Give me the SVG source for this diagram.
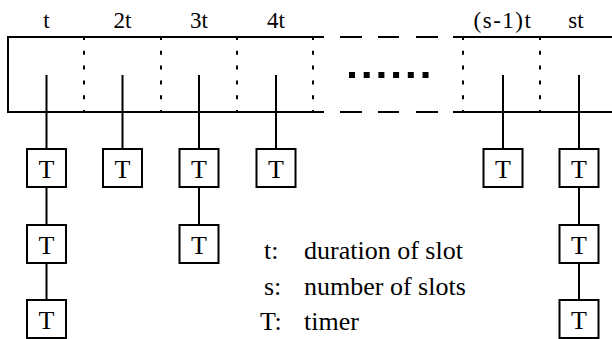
<svg xmlns="http://www.w3.org/2000/svg" width="612" height="339" viewBox="0 0 612 339">
<style>
.lbl{font-family:"Liberation Serif","Times New Roman",serif;font-size:23px;fill:#000;text-anchor:middle}
.tt{font-family:"Liberation Serif","Times New Roman",serif;font-size:26px;fill:#000;text-anchor:middle}
.leg{font-family:"Liberation Serif","Times New Roman",serif;font-size:26px;fill:#000}
.ln{stroke:#000;stroke-width:2;fill:none}
.dot{stroke:#000;stroke-width:2;stroke-dasharray:4 10.8;fill:none}
.box{stroke:#000;stroke-width:2;fill:#fff}
</style>
<g id="frame">
<line class="ln" x1="8" y1="37" x2="8" y2="112"/>
<path class="ln" d="M7 37H324M340 37H362M378 37H399M416 37H438M453 37H612"/>
<path class="ln" d="M7 112H324M340 112H362M378 112H399M416 112H438M453 112H612"/>
<path class="dot" d="M84 36V113M161 36V113M237 36V113M313 36V113M463 36V113M540 36V113"/>
<line x1="349" y1="75" x2="430" y2="75" stroke="#000" stroke-width="6" stroke-dasharray="6 8.7"/>
</g>
<g id="labels">
<text class="lbl" x="46.5" y="28">t</text>
<text class="lbl" x="122.5" y="28">2t</text>
<text class="lbl" x="199" y="28">3t</text>
<text class="lbl" x="276" y="28">4t</text>
<text class="lbl" x="503" y="28" letter-spacing="1.5">(s-1)t</text>
<text class="lbl" x="576" y="28">st</text>
</g>
<g id="connectors">
<path class="ln" d="M46.5 75V149M46.5 187V225M46.5 263V300M122.5 75V149M199 75V149M199 187V225M276 75V149M503 75V149M579 75V149M579 187V225M579 263V300"/>
</g>
<g id="n1"><rect class="box" x="27" y="149" width="39" height="38"/><text class="tt" x="46.5" y="178">T</text></g>
<g id="n2"><rect class="box" x="27" y="225" width="39" height="38"/><text class="tt" x="46.5" y="254">T</text></g>
<g id="n3"><rect class="box" x="27" y="300" width="39" height="38"/><text class="tt" x="46.5" y="329">T</text></g>
<g id="n4"><rect class="box" x="103" y="149" width="39" height="38"/><text class="tt" x="122.5" y="178">T</text></g>
<g id="n5"><rect class="box" x="179.5" y="149" width="39" height="38"/><text class="tt" x="199" y="178">T</text></g>
<g id="n6"><rect class="box" x="179.5" y="225" width="39" height="38"/><text class="tt" x="199" y="254">T</text></g>
<g id="n7"><rect class="box" x="256.5" y="149" width="39" height="38"/><text class="tt" x="276" y="178">T</text></g>
<g id="n8"><rect class="box" x="483.5" y="149" width="39" height="38"/><text class="tt" x="503" y="178">T</text></g>
<g id="n9"><rect class="box" x="559.5" y="149" width="39" height="38"/><text class="tt" x="579" y="178">T</text></g>
<g id="n10"><rect class="box" x="559.5" y="225" width="39" height="38"/><text class="tt" x="579" y="254">T</text></g>
<g id="n11"><rect class="box" x="559.5" y="300" width="39" height="38"/><text class="tt" x="579" y="329">T</text></g>
<g id="legend">
<text class="leg" x="264" y="259">t:</text><text class="leg" x="304" y="259">duration of slot</text>
<text class="leg" x="264" y="295">s:</text><text class="leg" x="304" y="295">number of slots</text>
<text class="leg" x="260" y="330">T:</text><text class="leg" x="304" y="330">timer</text>
</g>
</svg>
